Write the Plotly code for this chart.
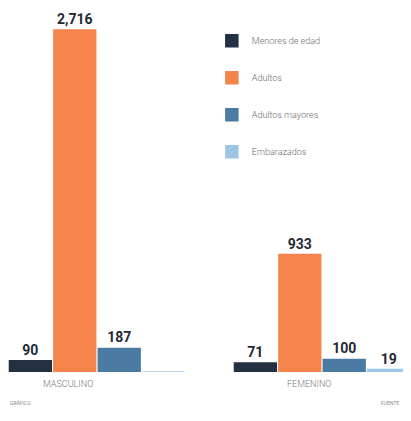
import plotly.graph_objects as go

groups = ["MASCULINO", "FEMENINO"]
series = ["Menores de edad", "Adultos", "Adultos mayores", "Embarazados"]
values = {
    "Menores de edad": [90, 71],
    "Adultos": [2716, 933],
    "Adultos mayores": [187, 100],
    "Embarazados": [0, 19],
}
colors = ["#233142", "#F5844C", "#4B7BA3", "#9DC5E6"]
label_shift = [-29, -13]

fig = go.Figure()
for i, s in enumerate(series):
    vals = values[s]
    labels = [f"{v:,}" if v > 0 else "" for v in vals]
    fig.add_trace(go.Bar(
        x=[0, 1], y=vals, name=s, legendgroup=s,
        marker=dict(color=colors[i], line=dict(color=colors[i], width=1.5)),
        text=labels, textposition="outside", cliponaxis=False,
        textfont=dict(family="Roboto", size=14, color="#1f2a33", weight="bold"),
    ))

annotations = [
    dict(text=g, x=i, y=0, xref="x", yref="y", xshift=label_shift[i], yshift=-12,
         showarrow=False, font=dict(family="Roboto", size=9, color="#7a7a7a", weight=300))
    for i, g in enumerate(groups)
]
annotations += [
    dict(text="GRÁFICO", x=0.0, y=-0.099, xref="paper", yref="paper",
         showarrow=False, xanchor="left", font=dict(size=5, color="#8a8a8a")),
    dict(text="FUENTE", x=0.955, y=-0.099, xref="paper", yref="paper",
         showarrow=False, xanchor="right", font=dict(size=5, color="#8a8a8a")),
]

fig.update_layout(
    width=411, height=421,
    margin=dict(l=0, r=0, t=0, b=57),
    paper_bgcolor="white", plot_bgcolor="white",
    barmode="group", bargap=0.21, bargroupgap=0.06,
    showlegend=True,
    legend=dict(x=0.496, y=0.95, xanchor="left", yanchor="top",
                font=dict(family="Roboto", size=9, color="#6b6b6b", weight=300),
                tracegroupgap=18, itemwidth=30, bgcolor="rgba(0,0,0,0)"),
    xaxis=dict(range=[-0.3956, 1.431], showticklabels=False,
               showgrid=False, zeroline=False, showline=False, ticks=""),
    yaxis=dict(range=[0, 2891], visible=False, showgrid=False),
    font=dict(family="Roboto"),
    annotations=annotations,
)

fig.write_html("out.html")
